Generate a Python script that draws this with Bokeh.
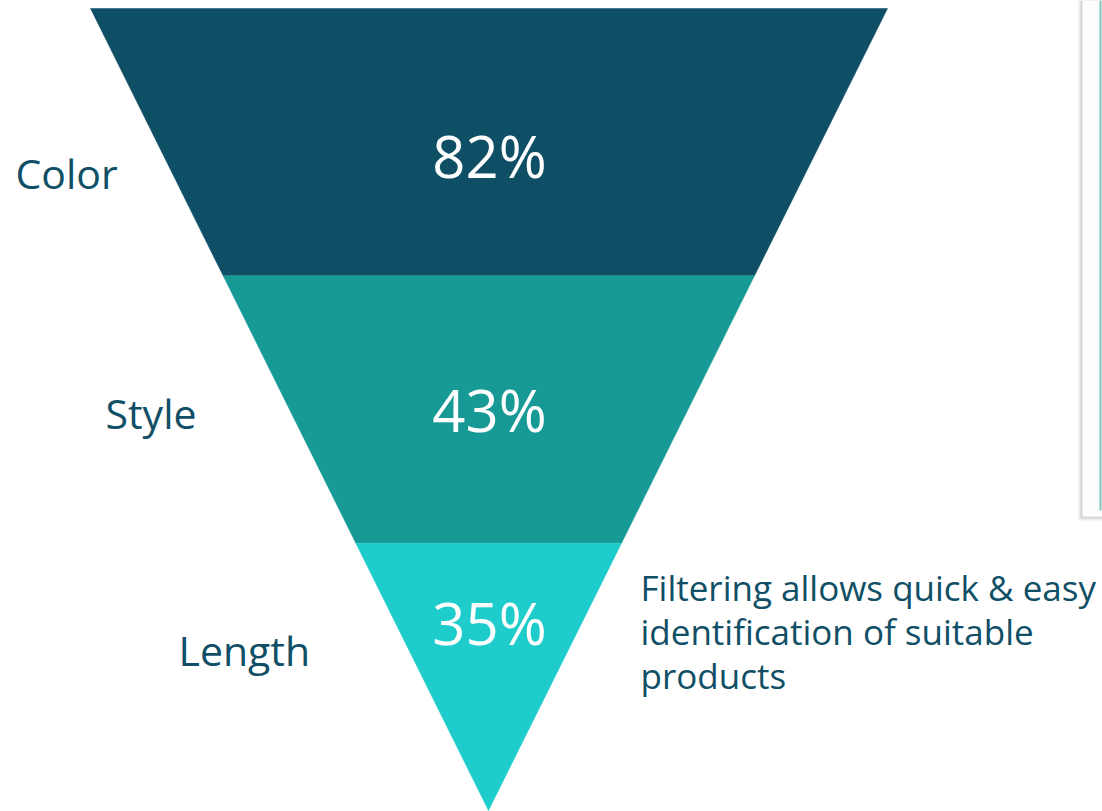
from bokeh.plotting import figure
from bokeh.models import Range1d
from bokeh.core.properties import value
from bokeh.embed import file_html
from bokeh.resources import INLINE

# data
categories = ["Color", "Style", "Length"]
percent_values = [82, 43, 35]
band_colors = ["#0F4F66", "#179A96", "#1ECDCB"]
note_lines = ["Filtering allows quick & easy", "identification of suitable", "products"]

TEXT = "#104F66"
FONT = "Open Sans"

W, H = 1102, 811
p = figure(width=W, height=H, output_backend="svg", toolbar_location=None,
           x_range=Range1d(0, W), y_range=Range1d(H, 0),
           min_border=0, outline_line_color=None)
p.axis.visible = False
p.grid.visible = False
p.background_fill_color = "white"
p.border_fill_color = "white"

# funnel geometry (layout)
top_y, apex_y = 8, 810
top_l, top_r, apex_x = 90, 887, 488
n = len(categories)
edges = [top_y + (apex_y - top_y) * i / n for i in range(n + 1)]

def lx(y):
    return top_l + (apex_x - top_l) * (y - top_y) / (apex_y - top_y)

def rx(y):
    return top_r + (apex_x - top_r) * (y - top_y) / (apex_y - top_y)

xs, ys = [], []
for i in range(n):
    y0, y1 = edges[i], edges[i + 1]
    if i == n - 1:
        xs.append([lx(y0), rx(y0), apex_x])
        ys.append([y0, y0, y1])
    else:
        xs.append([lx(y0), rx(y0), rx(y1), lx(y1)])
        ys.append([y0, y0, y1, y1])
p.patches(xs, ys, fill_color=band_colors, line_color=band_colors, line_width=0.5)

# percentages
pct_y = [155, 409, 622]
p.text(x=[apex_x + 1] * n, y=pct_y, text=[f"{v}%" for v in percent_values],
       text_font=value(FONT), text_font_size="58px", text_color="white",
       text_align="center", text_baseline="middle")

# category labels
lab_x = [15, 105, 178]
lab_y = [172, 412, 649]
p.text(x=lab_x, y=lab_y, text=categories, text_font=value(FONT),
       text_font_size="41px", text_color=TEXT, text_align="left", text_baseline="middle")

# note
p.text(x=[640] * 3, y=[587, 631, 675], text=note_lines, text_font=value(FONT),
       text_font_size="35px", text_color=TEXT, text_align="left", text_baseline="middle")

# card with shadow on the right
for k, c in enumerate(["#F2F2F2", "#E6E6E6", "#D6D6D6"]):
    p.quad(left=1078 + k, right=1110, top=0, bottom=520 - k, fill_color=c, line_color=None)
p.quad(left=1082, right=1110, top=0, bottom=516, fill_color="#FDFDFD", line_color=None)
p.segment(x0=[1100], y0=[0], x1=[1100], y1=[510], line_color="#7CC5BF", line_width=2)

open("out.html", "w").write(file_html(p, INLINE))
